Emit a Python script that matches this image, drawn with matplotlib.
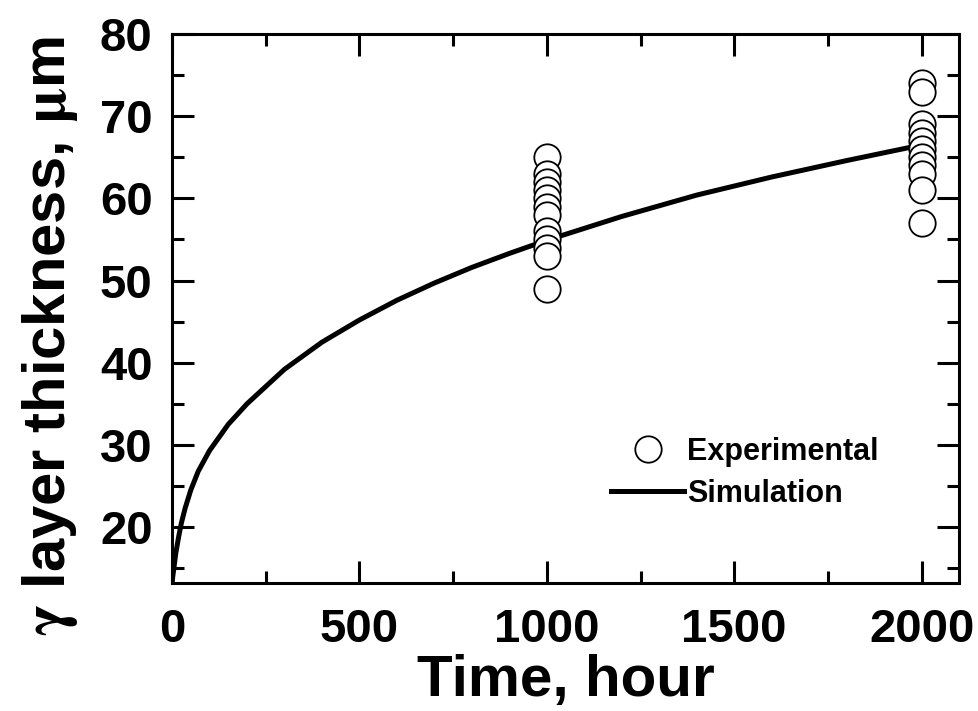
"""Gamma layer growth: experiment vs simulation."""
import matplotlib
matplotlib.use('Agg')
import matplotlib.pyplot as plt
from matplotlib.ticker import MultipleLocator

plt.rcParams['font.family'] = ['Liberation Sans', 'DejaVu Sans']
plt.rcParams['font.weight'] = 'bold'
plt.rcParams['mathtext.fontset'] = 'stix'

# measured thickness (um) at each exposure time
exp_1000_time = [1000] * 12
exp_1000_thk = [65, 63, 62, 61, 60, 59, 58, 56, 55, 54, 53, 49]
exp_2000_time = [2000] * 11
exp_2000_thk = [74, 73, 69, 68, 67, 66, 65, 64, 63, 61, 57]

# simulated growth curve
sim_time = [0, 2, 5, 10, 18, 25, 35, 50, 70, 100, 150, 200, 300, 400, 500,
            600, 700, 800, 900, 1000, 1200, 1400, 1600, 1800, 2000]
sim_thk = [13.0, 14.0, 15.0, 16.8, 18.9, 20.5, 22.3, 24.5, 26.8, 29.3, 32.5,
           35.0, 39.2, 42.5, 45.2, 47.6, 49.7, 51.6, 53.3, 54.9, 57.8, 60.4,
           62.6, 64.6, 66.5]

fig = plt.figure(figsize=(9.79, 7.11), dpi=100)
ax = fig.add_axes([0.1757, 0.180, 0.804, 0.7722])

ax.plot(sim_time, sim_thk, color='black', linewidth=3.6, label='Simulation', zorder=2)
ax.plot(exp_1000_time + exp_2000_time, exp_1000_thk + exp_2000_thk, linestyle='none',
        marker='o', markersize=19, markerfacecolor='white', markeredgecolor='black',
        markeredgewidth=1.3, label='Experimental', zorder=3)

ax.set_xlim(0, 2100)
ax.set_ylim(13.2, 80)
ax.xaxis.set_major_locator(MultipleLocator(500))
ax.xaxis.set_minor_locator(MultipleLocator(250))
ax.yaxis.set_minor_locator(MultipleLocator(5))
ax.set_yticks([20, 30, 40, 50, 60, 70, 80])

ax.tick_params(which='both', direction='in', top=True, right=True, width=2.2)
ax.tick_params(which='major', length=16, labelsize=34)
ax.tick_params(axis='x', which='major', pad=18)
ax.tick_params(axis='y', which='major', pad=14)
ax.tick_params(which='minor', length=8.5)
for sp in ax.spines.values():
    sp.set_linewidth(2.2)
for lab in ax.get_xticklabels() + ax.get_yticklabels():
    lab.set_fontweight('bold')

ax.set_xlabel('Time, hour', fontsize=42, fontweight='bold')
ax.xaxis.set_label_coords(0.5, -0.13)
ax.set_ylabel(r'$\mathrm{\gamma}$ layer thickness, $\mathrm{\mu}$m', fontsize=43,
              fontweight='bold')
ax.yaxis.set_label_coords(-0.117, 0.45)

handles, labels = ax.get_legend_handles_labels()
ax.legend(handles[::-1], labels[::-1], loc='lower right', bbox_to_anchor=(0.933, 0.085),
          frameon=False, handlelength=2.4, handletextpad=0.1,
          labelspacing=0.4, prop={'weight': 'bold', 'size': 22})

fig.savefig('out.png', dpi=100)
